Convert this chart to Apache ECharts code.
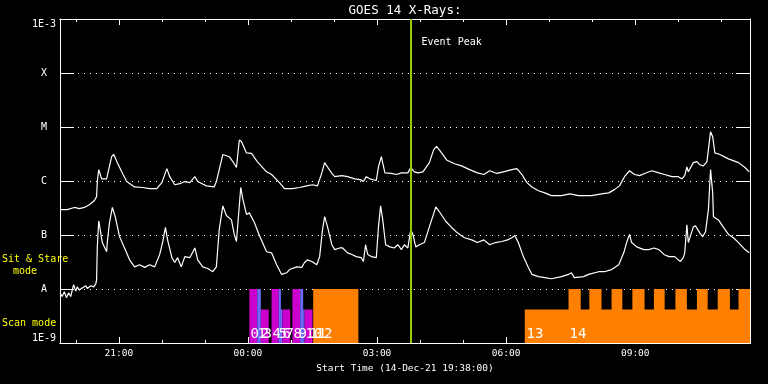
<!DOCTYPE html>
<html>
<head>
<meta charset="utf-8">
<script src="https://cdn.jsdelivr.net/npm/echarts@6/dist/echarts.min.js"></script>
<style>
html,body{margin:0;padding:0;background:#000;}
#main{width:768px;height:384px;}
</style>
</head>
<body>
<div id="main"></div>
<script>
// ---- data (x: minutes after 14-Dec-21 19:38 UT, y: log10 flux W/m^2) ----
const chartTitle = 'GOES 14 X-Rays:';
const axisTitle = 'Start Time (14-Dec-21 19:38:00)';
const clockStart = 19 * 60 + 38;
const timeMax = 962;
const yTickLabels = ['1E-9', 'A', 'B', 'C', 'M', 'X', '1E-3'];
const majorTicks = [82, 262, 442, 622, 802];
const minorTicks = [22, 82, 142, 202, 262, 322, 382, 442, 502, 562, 622, 682, 742, 802, 862, 922];

const goesLong = [[0,-6.53],[10,-6.53],[20,-6.49],[27,-6.51],[34,-6.49],[41,-6.44],[48,-6.36],[51,-6.29],[52,-6.01],[54,-5.79],[58,-5.96],[65,-5.96],[72,-5.55],[75,-5.51],[80,-5.66],[86,-5.83],[93,-6.01],[104,-6.11],[115,-6.12],[125,-6.14],[135,-6.14],[142,-6.03],[149,-5.77],[153,-5.92],[160,-6.07],[167,-6.05],[174,-6.01],[181,-6.03],[188,-5.92],[192,-6.01],[204,-6.09],[215,-6.11],[218,-6.01],[227,-5.51],[236,-5.55],[241,-5.64],[246,-5.75],[250,-5.24],[253,-5.27],[260,-5.48],[267,-5.49],[275,-5.64],[288,-5.83],[295,-5.88],[306,-6.03],[313,-6.14],[324,-6.14],[334,-6.12],[344,-6.09],[352,-6.07],[359,-6.09],[365,-5.85],[369,-5.66],[373,-5.74],[379,-5.86],[383,-5.92],[393,-5.90],[401,-5.92],[411,-5.96],[420,-5.98],[423,-6.01],[427,-5.92],[432,-5.96],[441,-5.99],[444,-5.74],[448,-5.55],[453,-5.85],[462,-5.86],[469,-5.88],[476,-5.85],[485,-5.85],[489,-5.75],[494,-5.83],[499,-5.85],[506,-5.83],[515,-5.66],[521,-5.42],[525,-5.36],[531,-5.46],[539,-5.61],[550,-5.68],[560,-5.72],[571,-5.79],[582,-5.85],[591,-5.88],[599,-5.81],[609,-5.86],[618,-5.83],[630,-5.79],[637,-5.77],[644,-5.88],[651,-6.03],[658,-6.11],[667,-6.18],[676,-6.22],[685,-6.27],[699,-6.27],[711,-6.24],[723,-6.27],[741,-6.27],[755,-6.24],[765,-6.22],[773,-6.16],[780,-6.09],[787,-5.92],[794,-5.81],[801,-5.88],[808,-5.90],[815,-5.86],[825,-5.81],[835,-5.85],[843,-5.88],[853,-5.92],[862,-5.92],[867,-5.96],[871,-5.90],[874,-5.74],[876,-5.83],[883,-5.66],[888,-5.64],[892,-5.70],[897,-5.72],[902,-5.64],[904,-5.42],[907,-5.09],[910,-5.18],[913,-5.48],[920,-5.51],[932,-5.59],[946,-5.66],[955,-5.75],[961,-5.83]];

const goesShort = [[0,-8.07],[3,-8.14],[6,-8.05],[9,-8.16],[12,-8.07],[15,-8.14],[17,-8.02],[19,-7.92],[22,-8.04],[24,-7.96],[27,-8.02],[31,-7.98],[36,-7.94],[38,-7.99],[43,-7.94],[47,-7.96],[50,-7.90],[51,-7.83],[52,-7.22],[54,-6.74],[56,-6.90],[59,-7.14],[65,-7.31],[66,-7.12],[69,-6.77],[73,-6.49],[77,-6.66],[83,-7.03],[90,-7.24],[97,-7.46],[104,-7.59],[111,-7.55],[118,-7.60],[125,-7.55],[132,-7.59],[139,-7.36],[143,-7.14],[147,-6.86],[150,-7.09],[156,-7.42],[160,-7.51],[164,-7.42],[169,-7.59],[174,-7.40],[181,-7.42],[188,-7.24],[192,-7.46],[199,-7.59],[206,-7.62],[213,-7.68],[218,-7.59],[222,-6.90],[227,-6.46],[232,-6.64],[239,-6.72],[243,-6.99],[246,-7.12],[252,-6.12],[255,-6.34],[260,-6.62],[264,-6.59],[271,-6.77],[278,-7.01],[288,-7.31],[295,-7.33],[302,-7.55],[309,-7.73],[316,-7.70],[320,-7.64],[330,-7.59],[337,-7.60],[341,-7.51],[345,-7.46],[351,-7.49],[358,-7.55],[362,-7.40],[366,-6.90],[369,-6.66],[373,-6.85],[379,-7.18],[383,-7.27],[390,-7.24],[394,-7.24],[401,-7.33],[407,-7.36],[413,-7.40],[420,-7.42],[423,-7.49],[426,-7.18],[429,-7.36],[434,-7.40],[441,-7.42],[444,-6.85],[447,-6.46],[450,-6.72],[454,-7.18],[460,-7.22],[466,-7.24],[471,-7.18],[476,-7.27],[480,-7.18],[485,-7.24],[489,-6.90],[492,-6.99],[496,-7.22],[501,-7.18],[508,-7.14],[515,-6.85],[524,-6.48],[529,-6.57],[538,-6.75],[546,-6.86],[554,-6.96],[564,-7.05],[574,-7.09],[582,-7.14],[591,-7.09],[599,-7.18],[607,-7.14],[616,-7.12],[624,-7.09],[630,-7.05],[634,-7.01],[639,-7.14],[646,-7.40],[653,-7.60],[658,-7.73],[667,-7.77],[676,-7.79],[685,-7.81],[699,-7.77],[709,-7.73],[713,-7.70],[717,-7.79],[730,-7.77],[737,-7.73],[751,-7.68],[759,-7.68],[769,-7.64],[779,-7.55],[786,-7.33],[790,-7.14],[794,-6.99],[797,-7.14],[804,-7.22],[814,-7.27],[821,-7.27],[828,-7.24],[835,-7.27],[842,-7.36],[849,-7.40],[857,-7.40],[862,-7.46],[865,-7.49],[869,-7.42],[871,-7.33],[874,-6.81],[876,-7.14],[878,-7.14],[883,-6.85],[886,-6.83],[892,-6.96],[896,-7.03],[900,-6.94],[904,-6.53],[907,-5.79],[910,-6.22],[911,-6.66],[918,-6.72],[925,-6.86],[932,-6.99],[939,-7.05],[946,-7.14],[955,-7.27],[961,-7.33]];

// observation blocks: start, end, top level, colour index (0 magenta, 1 blue, 2 orange)
const obsStart = [264, 275, 280, 295, 305, 308, 310, 324, 335, 339, 341, 353, 648, 709, 738, 769, 798, 828, 858, 888, 917, 946];
const obsEnd   = [275, 280, 291, 305, 308, 310, 321, 335, 339, 341, 352, 416, 962, 726, 755, 784, 815, 843, 874, 903, 934, 962];
const obsTop   = [-8, -8, -8.38, -8, -8, -8.38, -8.38, -8, -8, -8.38, -8.38, -8, -8.38, -8, -8, -8, -8, -8, -8, -8, -8, -8];
const obsColor = [0, 1, 0, 0, 1, 1, 0, 0, 1, 1, 0, 2, 2, 2, 2, 2, 2, 2, 2, 2, 2, 2];
const obsLabels = ['0','1','2','3','4','5','6','7','8','9','10','11','12','13','14'];
const obsLabelTime = [265.6, 275.4, 279.6, 283.8, 296.3, 304.7, 310.3, 314.4, 325.6, 332.6, 342.3, 347.9, 356.3, 650.5, 710.5];

const eventPeakTime = 488.7;
const eventLabel = 'Event Peak';
const eventLabelLevel = -3.43;

// ---- styles ----
const palette = ['#cc00cc', '#6a6aff', '#ff8000'];
const MONO = '"DejaVu Sans Mono", monospace';
const WHITE = '#ffffff';
const YELLOW = '#ffff00';

function clock(m) {
  const t = Math.round(clockStart + m) % 1440;
  return String(Math.floor(t / 60)).padStart(2, '0') + ':' + String(t % 60).padStart(2, '0');
}

const chart = echarts.init(document.getElementById('main'), null, {renderer: 'canvas'});

function xAxisDef(pos, ticks, len, withLabels) {
  return {
    type: 'value', position: pos, min: 0, max: timeMax,
    axisLine: {show: true, onZero: false, lineStyle: {color: WHITE, width: 1}},
    axisTick: {show: true, inside: true, length: len, customValues: ticks, lineStyle: {color: WHITE, width: 1}},
    axisLabel: withLabels ? {
      show: true, customValues: ticks, formatter: v => clock(v), color: WHITE,
      fontFamily: MONO, fontSize: 9.5, margin: 6
    } : {show: false},
    splitLine: {show: false},
    name: withLabels ? axisTitle : '',
    nameLocation: 'middle', nameGap: 19,
    nameTextStyle: {color: WHITE, fontFamily: MONO, fontSize: 9.5}
  };
}

const option = {
  backgroundColor: '#000000',
  animation: false,
  title: {
    text: chartTitle, left: 405, top: 4, textAlign: 'center', padding: 0,
    textStyle: {color: WHITE, fontFamily: MONO, fontSize: 12.5, fontWeight: 'normal'}
  },
  grid: {left: 60, right: 18, top: 19, bottom: 41, containLabel: false},
  xAxis: [
    xAxisDef('bottom', majorTicks, 6, true),
    xAxisDef('bottom', minorTicks, 3, false),
    xAxisDef('top', majorTicks, 6, false),
    xAxisDef('top', minorTicks, 3, false)
  ],
  yAxis: [
    {
      type: 'value', position: 'left', min: -9, max: -3, interval: 1,
      axisLine: {show: true, onZero: false, lineStyle: {color: WHITE, width: 1}},
      axisTick: {show: true, inside: true, length: 14, lineStyle: {color: WHITE}},
      axisLabel: {
        color: WHITE, fontFamily: MONO, fontSize: 10, align: 'center', margin: 16,
        formatter: v => yTickLabels[Math.round(v + 9)],
        verticalAlignMinLabel: 'bottom', verticalAlignMaxLabel: 'top'
      },
      splitLine: {show: true, lineStyle: {color: WHITE, width: 1, type: [1, 5]}}
    },
    {
      type: 'value', position: 'right', min: -9, max: -3, interval: 1,
      axisLine: {show: true, onZero: false, lineStyle: {color: WHITE, width: 1}},
      axisTick: {show: true, inside: true, length: 14, lineStyle: {color: WHITE}},
      axisLabel: {show: false},
      splitLine: {show: false}
    }
  ],
  graphic: [
    {type: 'text', x: 2, y: 259, style: {text: 'Sit & Stare', fill: YELLOW, font: '10px ' + MONO, verticalAlign: 'middle'}},
    {type: 'text', x: 13, y: 271, style: {text: 'mode', fill: YELLOW, font: '10px ' + MONO, verticalAlign: 'middle'}},
    {type: 'text', x: 2, y: 323.5, style: {text: 'Scan mode', fill: YELLOW, font: '10px ' + MONO, verticalAlign: 'middle'}}
  ],
  series: [
    {
      name: 'obs', type: 'custom', xAxisIndex: 0, yAxisIndex: 0, z: 1, silent: true,
      data: obsStart.map((s, i) => [s, obsEnd[i], obsTop[i], obsColor[i]]),
      encode: {x: [0, 1], y: 2},
      renderItem: function (params, api) {
        const p0 = api.coord([api.value(0), api.value(2)]);
        const p1 = api.coord([api.value(1), -9]);
        return {
          type: 'rect',
          shape: {x: p0[0], y: p0[1], width: p1[0] - p0[0], height: p1[1] - p0[1]},
          style: {fill: palette[api.value(3)]}
        };
      }
    },
    {
      name: 'obsLabels', type: 'custom', xAxisIndex: 0, yAxisIndex: 0, z: 3, silent: true,
      data: obsLabelTime.map(t => [t, -9]),
      encode: {x: 0, y: 1},
      renderItem: function (params, api) {
        const c = api.coord([api.value(0), api.value(1)]);
        return {
          type: 'text', x: c[0], y: c[1] - 2,
          style: {text: obsLabels[params.dataIndex], fill: WHITE, font: '14px ' + MONO, align: 'left', verticalAlign: 'bottom'}
        };
      }
    },
    {
      name: 'Long', type: 'line', xAxisIndex: 0, yAxisIndex: 0, z: 4,
      data: goesLong, showSymbol: false, symbol: 'none', smooth: false,
      lineStyle: {color: WHITE, width: 1.2}, silent: true,
      markLine: {
        silent: true, symbol: ['none', 'none'], label: {show: false},
        lineStyle: {color: '#99cc00', width: 2, type: 'solid'},
        data: [{xAxis: eventPeakTime}]
      }
    },
    {
      name: 'Short', type: 'line', xAxisIndex: 0, yAxisIndex: 0, z: 4,
      data: goesShort, showSymbol: false, symbol: 'none', smooth: false,
      lineStyle: {color: WHITE, width: 1.2}, silent: true
    },
    {
      name: 'eventLabel', type: 'custom', xAxisIndex: 0, yAxisIndex: 0, z: 5, silent: true,
      data: [[eventPeakTime, eventLabelLevel]],
      encode: {x: 0, y: 1},
      renderItem: function (params, api) {
        const c = api.coord([api.value(0), api.value(1)]);
        return {
          type: 'text', x: c[0] + 11, y: c[1],
          style: {text: eventLabel, fill: WHITE, font: '10px ' + MONO, align: 'left', verticalAlign: 'middle'}
        };
      }
    }
  ]
};
chart.setOption(option);
</script>
</body>
</html>
